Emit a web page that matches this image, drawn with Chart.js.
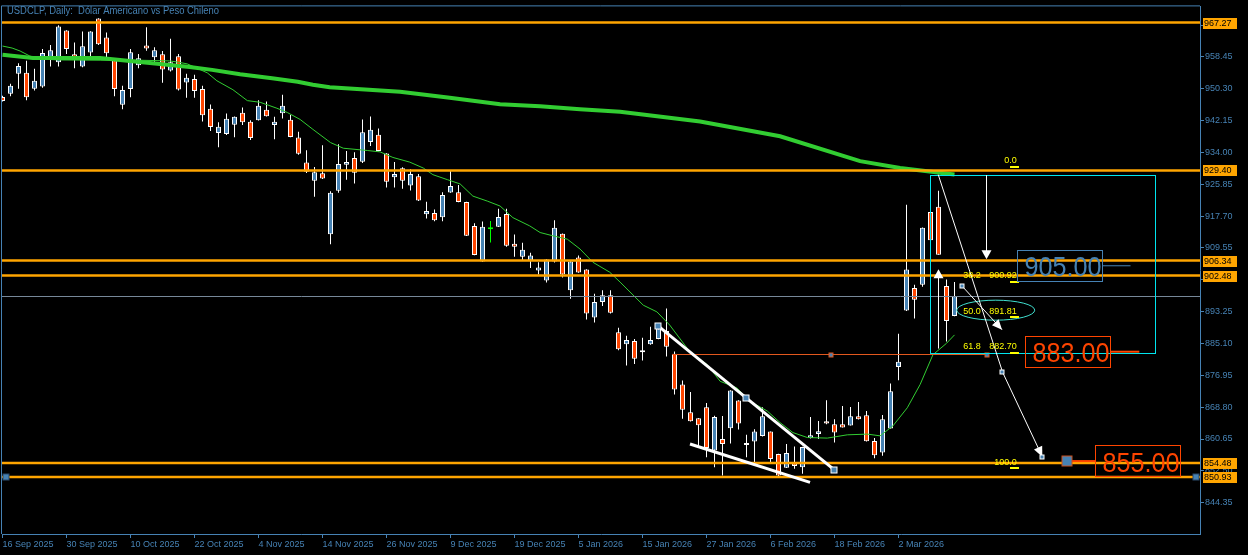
<!DOCTYPE html>
<html><head><meta charset="utf-8">
<script src="https://cdn.jsdelivr.net/npm/chart.js@4.4.1/dist/chart.umd.min.js"></script>
<style>html,body{margin:0;padding:0;background:#000;overflow:hidden}#wrap{width:1248px;height:555px;position:relative}</style>
</head><body><div id="wrap"><canvas id="c" width="1248" height="555"></canvas></div>
<script>
const title = 'USDCLP, Daily:  Dólar Americano vs Peso Chileno';
const tickLabels = ['16 Sep 2025','30 Sep 2025','10 Oct 2025','22 Oct 2025','4 Nov 2025','14 Nov 2025','26 Nov 2025','9 Dec 2025','19 Dec 2025','5 Jan 2026','15 Jan 2026','27 Jan 2026','6 Feb 2026','18 Feb 2026','2 Mar 2026'];
const yTicks = [844.35,852.50,860.65,868.80,876.95,885.10,893.25,901.40,909.55,917.70,925.85,934.00,942.15,950.30,958.45,966.60];

const opens = [948.22,949.06,954.14,954.39,950.33,950.91,958.02,957.11,965.23,959.14,955.99,959.60,968.28,963.46,957.62,946.19,950.25,956.35,961.42,958.38,
959.14,954.98,958.63,951.93,952.79,950.25,945.17,938.98,938.73,941.11,944.16,941.87,942.28,944.92,941.01,944.06,942.38,937.81,931.46,926.79,
928.67,913.08,924.18,930.85,932.56,931.62,936.69,938.57,933.75,927.66,929.94,925.52,927.91,918.16,918.52,917.40,923.74,923.85,921.31,915.21,
906.07,914.53,914.96,918.26,910.64,907.34,906.33,903.79,901.25,906.07,913.18,898.71,907.09,904.04,891.75,895.74,897.44,887.95,884.90,885.76,
882.87,884.90,886.27,888.30,882.46,874.59,867.48,865.96,868.75,857.73,860.63,863.42,870.53,859.10,860.02,861.39,862.56,856.82,853.26,854.35,
853.42,860.88,861.90,865.20,864.44,864.44,864.13,866.47,866.72,860.12,857.22,863.37,879.11,893.53,899.30,900.13,918.77,920.12,899.80,892.11];
const highs = [948.55,951.60,956.85,957.51,955.41,960.49,961.50,966.58,965.31,962.19,964.98,965.06,968.36,964.72,957.80,951.09,960.49,959.22,966.07,960.92,
959.98,963.10,959.22,954.14,953.88,951.09,946.27,941.77,943.98,943.22,945.50,942.28,947.36,947.03,943.14,948.81,943.60,939.33,934.59,930.27,
935.86,924.10,936.11,934.41,934.08,942.46,943.22,940.17,933.80,931.54,930.20,929.69,928.49,921.38,919.43,923.85,929.26,925.70,921.40,915.87,
916.31,916.49,919.61,919.61,913.00,910.90,908.36,905.90,906.66,916.64,913.26,906.15,907.60,904.12,897.85,898.71,898.71,889.14,887.11,886.27,
886.60,889.39,890.16,894.04,883.04,875.60,872.71,866.04,869.84,866.62,866.54,873.14,870.60,861.72,863.17,868.75,862.60,856.90,859.36,858.75,
858.67,866.29,865.27,870.60,865.70,869.08,868.83,870.10,867.81,860.88,866.80,874.84,887.62,920.62,900.13,914.80,928.24,924.18,901.50,900.82];
const lows = [947.03,948.37,950.33,947.36,949.90,950.60,955.99,955.99,959.22,955.58,955.80,957.95,961.50,957.77,948.37,945.07,948.12,955.58,960.05,957.26,
951.85,954.72,949.90,948.04,948.04,941.95,939.49,935.35,938.47,937.89,941.01,937.20,942.20,943.20,937.38,942.71,937.90,933.39,928.75,922.65,
927.20,910.54,923.67,927.05,926.03,931.29,935.68,934.30,925.02,925.02,924.69,924.25,921.60,917.07,916.38,916.38,923.67,921.26,912.60,907.70,
906.00,910.97,914.90,909.88,907.34,906.33,904.45,902.77,900.74,905.82,902.01,896.58,903.20,891.25,890.48,894.73,892.77,883.38,879.49,879.82,
880.76,884.80,886.20,881.77,872.05,865.86,865.15,858.75,855.96,853.42,851.31,859.51,863.06,855.96,854.28,861.30,854.28,851.20,853.20,853.01,
851.74,860.80,860.63,864.44,859.76,863.57,864.08,865.65,860.02,855.70,856.39,863.32,875.68,893.45,891.50,899.62,910.97,907.80,885.58,892.06];
const closes = [947.21,951.09,956.17,948.12,952.36,959.47,960.15,966.25,960.48,958.27,961.17,964.98,961.68,959.39,950.25,950.00,959.65,958.12,960.61,960.15,
955.23,957.11,950.15,953.12,949.75,943.55,940.50,940.60,942.64,943.14,941.77,937.71,945.94,943.30,941.87,945.94,937.96,933.65,929.08,928.92,
927.35,923.67,931.03,931.54,928.82,939.16,939.84,934.41,926.54,928.49,926.79,928.49,921.71,919.02,916.64,923.09,925.45,921.31,912.67,907.75,
914.96,914.53,917.50,910.14,909.88,909.12,907.60,904.55,906.58,914.71,902.77,906.07,903.28,892.77,895.74,897.44,892.95,883.63,886.02,881.19,
882.97,886.02,888.96,884.24,873.32,868.14,865.20,864.18,858.34,866.29,859.36,873.07,864.59,859.61,862.56,866.47,855.55,851.31,857.07,853.77,
858.59,861.64,862.66,864.59,862.30,863.62,866.47,865.70,860.07,856.51,865.70,872.89,880.43,904.04,896.32,914.71,911.56,907.85,890.84,897.19];

const maSlow = [[0,959.01],[3.8,958.20],[8.1,958.20],[12.2,958.20],[14.7,957.69],[17.8,957.06],[20.9,956.42],[23.4,955.91],[26.2,955.15],[29.7,954.01],
[33.7,952.99],[36.9,952.11],[38.8,951.34],[40.9,950.71],[49.7,949.57],[55.9,948.04],[62.2,946.34],[67.2,945.83],[72.2,945.07],[77.2,944.41],
[87.2,941.95],[97.2,938.14],[107.2,931.79],[112.2,930.02],[119,928.37]];
const maFast = [[0,961.25],[1.2,960.74],[2.2,959.98],[3.4,958.71],[4.3,957.95],[7.2,957.69],[12.2,957.62],[17.2,957.62],[20.9,957.44],[21.8,957.18],
[23.1,956.68],[25.6,954.39],[26.8,952.36],[28.8,950.07],[30.6,947.28],[32.2,946.85],[34.3,945.33],[35.6,944.24],[37.2,942.46],[38.8,939.92],
[41.0,936.54],[42.6,935.09],[45.6,934.51],[47.2,934.15],[48.8,932.73],[50.9,931.54],[52.6,930.02],[53.8,928.32],[55.6,927.05],[57.2,925.95],
[58.8,922.83],[60.6,921.56],[62.2,920.29],[63.8,917.32],[65.9,915.21],[67.2,913.51],[68.8,912.67],[70.6,911.81],[72.2,909.27],[73.8,905.90],
[75.9,903.36],[77.2,900.82],[80.1,894.90],[81.8,893.20],[83.4,889.82],[85.9,883.04],[88.1,879.67],[89.7,875.43],[91.8,873.73],[93.4,870.35],
[95.6,867.81],[97.2,864.84],[98.8,862.30],[100.6,861.03],[103.1,860.88],[105.6,861.72],[108.1,861.90],[109.7,861.46],[111.3,864.00],[113.1,868.65],
[114.7,874.59],[116.3,882.21],[118.0,885.15],[119,887.30]];

const hLevels = [967.27, 929.40, 906.34, 902.48, 854.48, 850.93];
const bidPrice = 897.19;
const fibPrices = [930.41, 900.92, 891.81, 882.70, 853.21];
const fibRatios = ['0.0','38.2','50.0','61.8','100.0'];
const fibValues = ['', '900.92', '891.81', '882.70', ''];
const fibSpan = [125.94, 127.06];
const cyanBox = [[115.98, 928.2], [144.0, 882.6]];
const fibEllipse = [124.15, 893.63];
const diagLine = [[116.97, 928.32], [124.94, 878.22]];
const arrowA = [[119.98, 899.73], [124.94, 888.63]];
const arrowB = [[124.98, 877.89], [129.98, 856.13]];
const upArrow = [116.98, 883.8, 904.1];
const downArrow = [122.94, 928.2, 906.7];
const levelLine = [[83.7, 882.5], [123.0, 882.5]];
const levelAnchors = [103.5, 123.0];
const wedgeUpper = [[81.98, 889.57], [103.98, 852.75]];
const wedgeUpperAnchors = [[81.98, 889.57], [92.94, 871.04], [103.98, 852.75]];
const wedgeLower = [[85.94, 859.36], [100.94, 849.53]];
const targets = [
  {text:'905.00', k:126.85, p:905.00, color:'#4682B4', lineTo:141.0, lw:1},
  {text:'883.00', k:127.85, p:883.00, color:'#FF4500', lineTo:142.1, lw:2},
  {text:'855.00', k:136.5,  p:855.00, color:'#FF4500', lineFrom:133.0, lw:2}
];

const FONT = 'Liberation Sans';
const AX = '#4682B4';
const bull = '#4682B4', bear = '#FF4500', doji = '#00FF00';

const bodyData = opens.map((o, i) => ({x: i, y: o === closes[i] ? [o - 0.15, o + 0.15] : [o, closes[i]]}));
const wickData = opens.map((o, i) => ({x: i, y: [lows[i], highs[i]]}));
const bodyFill = opens.map((o, i) => o === closes[i] ? doji : (closes[i] > o ? bull : bear));
const bodyBorder = opens.map((o, i) => o === closes[i] ? doji : '#FFFFFF');
const wickColor = opens.map((o, i) => o === closes[i] ? doji : '#FFFFFF');

function seg(ctx, x1, y1, x2, y2) { ctx.beginPath(); ctx.moveTo(x1, y1); ctx.lineTo(x2, y2); ctx.stroke(); }
function square(ctx, x, y, s, fill, stroke) {
  x = Math.round(x); y = Math.round(y);
  ctx.fillStyle = stroke; ctx.fillRect(x - s/2, y - s/2, s, s);
  ctx.fillStyle = fill; ctx.fillRect(x - s/2 + 1, y - s/2 + 1, s - 2, s - 2);
}
function head(ctx, x1, y1, x2, y2, len, wid, color) {
  const a = Math.atan2(y2 - y1, x2 - x1);
  const bx = x2 - len * Math.cos(a), by = y2 - len * Math.sin(a);
  const nx = -Math.sin(a) * wid / 2, ny = Math.cos(a) * wid / 2;
  ctx.fillStyle = color; ctx.beginPath();
  ctx.moveTo(x2, y2); ctx.lineTo(bx + nx, by + ny); ctx.lineTo(bx - nx, by - ny); ctx.closePath(); ctx.fill();
}

const annot = {
  id: 'annot',
  beforeDraw(chart) {
    const ctx = chart.ctx; ctx.save(); ctx.fillStyle = '#000'; ctx.fillRect(0, 0, chart.width, chart.height); ctx.restore();
  },
  afterDatasetsDraw(chart) {
    const ctx = chart.ctx, xs = chart.scales.x, ys = chart.scales.y, a = chart.chartArea;
    const X = v => xs.getPixelForValue(v), Y = v => ys.getPixelForValue(v);
    ctx.save();
    // bid line
    ctx.strokeStyle = '#778899'; ctx.lineWidth = 1;
    let yb = Math.round(Y(bidPrice)) + 0.5; seg(ctx, a.left, yb, a.right, yb);
    // level line (thin orange-red)
    ctx.strokeStyle = '#E2581E'; ctx.lineWidth = 1;
    let yl = Math.round(Y(levelLine[0][1])) + 0.5; seg(ctx, X(levelLine[0][0]), yl, X(levelLine[1][0]), yl);
    levelAnchors.forEach(k => square(ctx, X(k), yl, 5, '#4682B4', '#E2581E'));
    // horizontal orange levels
    ctx.strokeStyle = '#FFA500'; ctx.lineWidth = 2.5;
    hLevels.forEach(v => { const y = Y(v); seg(ctx, a.left, y, a.right, y); });
    // wedge lines
    ctx.strokeStyle = '#FFFFFF'; ctx.lineWidth = 3; ctx.lineCap = 'butt';
    seg(ctx, X(wedgeUpper[0][0]), Y(wedgeUpper[0][1]), X(wedgeUpper[1][0]), Y(wedgeUpper[1][1]));
    seg(ctx, X(wedgeLower[0][0]), Y(wedgeLower[0][1]), X(wedgeLower[1][0]), Y(wedgeLower[1][1]));
    wedgeUpperAnchors.forEach(([k, p]) => square(ctx, X(k), Y(p), 7, '#4682B4', '#FFFFFF'));
    // fib box
    ctx.strokeStyle = '#00E5EE'; ctx.lineWidth = 1;
    const bx1 = Math.round(X(cyanBox[0][0])) + 0.5, by1 = Math.round(Y(cyanBox[0][1])) + 0.5;
    const bx2 = Math.round(X(cyanBox[1][0])) + 0.5, by2 = Math.round(Y(cyanBox[1][1])) + 0.5;
    ctx.strokeRect(bx1, by1, bx2 - bx1, by2 - by1);
    // ellipse
    ctx.strokeStyle = '#40E0D0'; ctx.beginPath();
    ctx.ellipse(X(fibEllipse[0]), Y(fibEllipse[1]), 39, 10, 0, 0, Math.PI * 2); ctx.stroke();
    // diagonal & arrows
    ctx.strokeStyle = '#FFFFFF'; ctx.lineWidth = 1;
    seg(ctx, X(diagLine[0][0]), Y(diagLine[0][1]), X(diagLine[1][0]), Y(diagLine[1][1]));
    [arrowA, arrowB].forEach(ar => {
      const x1 = X(ar[0][0]), y1 = Y(ar[0][1]), x2 = X(ar[1][0]), y2 = Y(ar[1][1]);
      ctx.strokeStyle = '#FFFFFF'; seg(ctx, x1, y1, x2, y2);
      head(ctx, x1, y1, x2, y2, 10, 9, '#FFFFFF');
      square(ctx, x1, y1, 5, '#4682B4', '#FFFFFF');
    });
    square(ctx, X(arrowB[1][0]), Y(arrowB[1][1]), 5, '#4682B4', '#FFFFFF');
    // up and down arrows
    ctx.strokeStyle = '#FFFFFF';
    let ux = Math.round(X(upArrow[0])) + 0.5;
    seg(ctx, ux, Y(upArrow[1]), ux, Y(upArrow[2]) + 8);
    head(ctx, ux, Y(upArrow[1]), ux, Y(upArrow[2]), 9, 10, '#FFFFFF');
    let dx = Math.round(X(downArrow[0])) + 0.5;
    seg(ctx, dx, Y(downArrow[1]), dx, Y(downArrow[2]) - 8);
    head(ctx, dx, Y(downArrow[1]), dx, Y(downArrow[2]), 9, 10, '#FFFFFF');
    // fib labels
    ctx.font = '9px "' + FONT + '"'; ctx.textBaseline = 'alphabetic';
    const xr = X(126.78);
    fibPrices.forEach((p, i) => {
      const y = Y(p);
      ctx.fillStyle = '#FFFF00';
      ctx.fillRect(X(fibSpan[0]), Math.round(y) - 1, X(fibSpan[1]) - X(fibSpan[0]), 2);
      ctx.textAlign = 'right';
      if (fibValues[i]) {
        ctx.fillText(fibValues[i], xr, y - 3.5);
        ctx.fillText(fibRatios[i], xr - 36, y - 3.5);
      } else {
        ctx.fillText(fibRatios[i], xr, y - 3.5);
      }
    });
    // target labels
    targets.forEach(t => {
      const y = Y(t.p), x0 = Math.round(X(t.k)) + 0.5, top = Math.round(y - 16) + 0.5;
      ctx.strokeStyle = t.color; ctx.lineWidth = t.lw;
      if (t.lineTo) seg(ctx, x0 + 85, y, X(t.lineTo), y);
      if (t.lineFrom) { seg(ctx, X(t.lineFrom), y, x0, y); square(ctx, X(t.lineFrom), y, 11, '#4682B4', '#C8501E'); }
      ctx.lineWidth = 1; ctx.strokeStyle = t.color;
      ctx.strokeRect(x0, top, 85, 31);
      ctx.fillStyle = t.color; ctx.textAlign = 'left'; ctx.font = '28px "' + FONT + '"';
      ctx.fillText(t.text, x0 + 7, y + 10.5, 77);
    });
    // anchors on the lowest level
    square(ctx, a.left + 4, Y(hLevels[5]), 7, '#4682B4', '#2a4a6a');
    square(ctx, a.right - 4, Y(hLevels[5]), 7, '#4682B4', '#2a4a6a');
    // right-axis tags
    ctx.font = '9px "' + FONT + '"'; ctx.textAlign = 'left'; ctx.textBaseline = 'middle';
    hLevels.forEach(v => {
      const y = Math.round(Y(v));
      ctx.fillStyle = '#FFA500'; ctx.fillRect(a.right + 3, y - 5, 34, 11);
      ctx.fillStyle = '#000'; ctx.fillText(v.toFixed(2), a.right + 4, y + 0.5);
    });
    // frame and title
    ctx.strokeStyle = AX; ctx.lineWidth = 1;
    seg(ctx, a.left - 0.5, a.top - 0.5, a.right, a.top - 0.5);
    seg(ctx, a.left - 0.5, a.top - 0.5, a.left - 0.5, a.bottom);
    ctx.fillStyle = AX; ctx.font = '10px "' + FONT + '"'; ctx.textBaseline = 'alphabetic';
    ctx.fillText(title, 7, 14, 212);
    ctx.restore();
  }
};

new Chart(document.getElementById('c'), {
  type: 'bar',
  data: {
    datasets: [
      {type: 'line', data: maSlow.map(([x, y]) => ({x, y})), borderColor: '#32CD32', borderWidth: 4, pointRadius: 0, tension: 0, order: 0},
      {type: 'line', data: maFast.map(([x, y]) => ({x, y})), borderColor: '#32CD32', borderWidth: 1, pointRadius: 0, tension: 0, order: 0},
      {type: 'bar', data: bodyData, backgroundColor: bodyFill, borderColor: bodyBorder, borderWidth: 1, borderSkipped: false,
       barThickness: 5, grouped: false, minBarLength: 2, inflateAmount: 0, order: 1},
      {type: 'bar', data: wickData, backgroundColor: wickColor, borderWidth: 0, barThickness: 1, grouped: false, inflateAmount: 0, order: 2}
    ]
  },
  options: {
    responsive: false, animation: false, devicePixelRatio: 1,
    layout: {padding: {left: 2, top: 2, right: 0, bottom: 0}},
    plugins: {legend: {display: false}, tooltip: {enabled: false}},
    scales: {
      x: {
        type: 'linear', min: -0.0625, max: 149.6875, offset: false,
        afterBuildTicks: s => { s.ticks = tickLabels.map((_, i) => ({value: i * 8})); },
        afterFit: s => { s.height = 21; },
        grid: {display: true, drawOnChartArea: false, drawTicks: true, tickLength: 4, color: AX, offset: false},
        border: {display: true, color: AX, width: 1},
        ticks: {autoSkip: false, maxRotation: 0, minRotation: 0, align: 'start', padding: 1, color: AX,
                font: {family: FONT, size: 9}, callback: v => tickLabels[Math.round(v / 8)] || ''}
      },
      y: {
        position: 'right', min: 836.33, max: 971.40,
        afterBuildTicks: s => { s.ticks = yTicks.map(v => ({value: v})); },
        afterFit: s => { s.width = 48; },
        grid: {display: true, drawOnChartArea: false, drawTicks: true, tickLength: 4, color: AX},
        border: {display: true, color: AX, width: 1},
        ticks: {padding: 1, color: AX, font: {family: FONT, size: 9}, callback: v => Number(v).toFixed(2)}
      }
    }
  },
  plugins: [annot]
});
</script></body></html>
